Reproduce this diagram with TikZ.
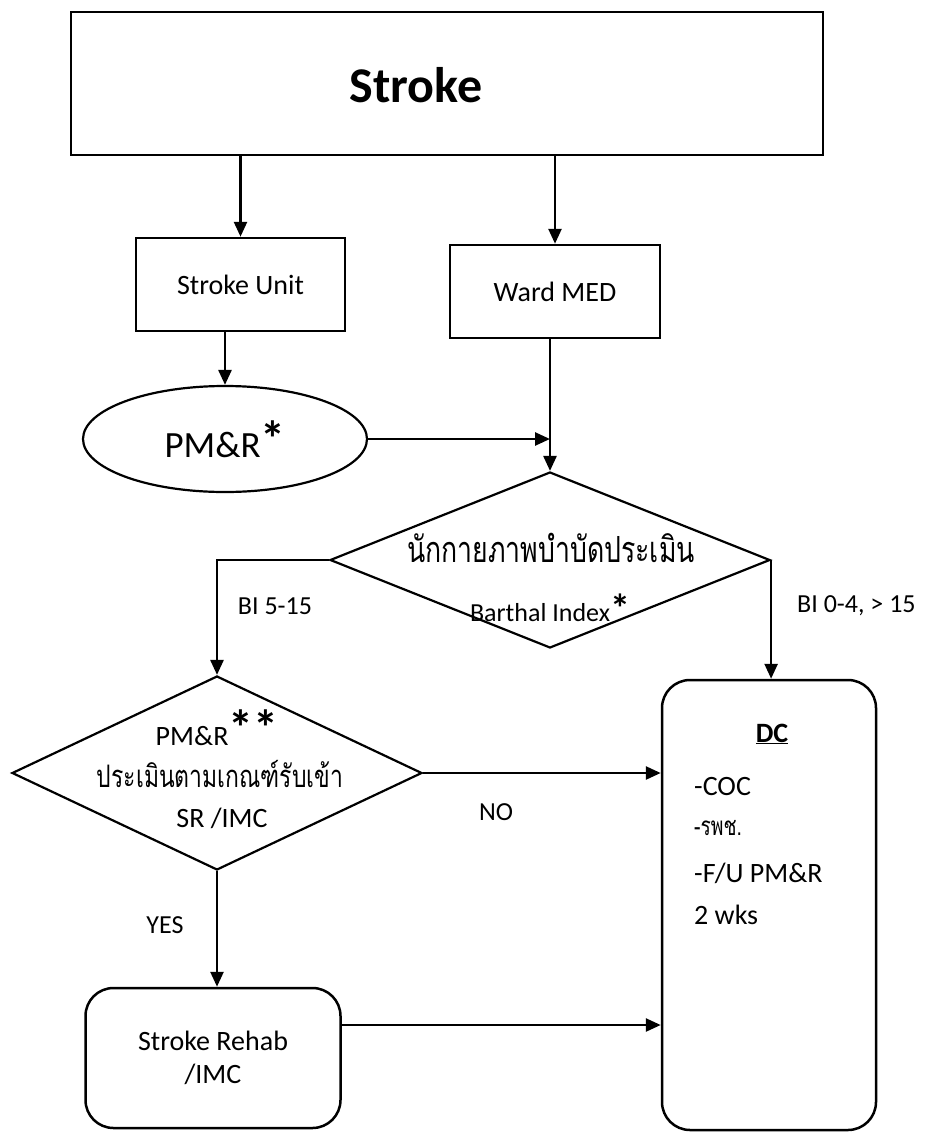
\documentclass[tikz,border=0pt]{standalone}
\usepackage{fontspec}
\setmainfont{Carlito}
\newfontfamily\thai[Script=Thai,FakeStretch=0.74]{Loma}
\usetikzlibrary{shapes.geometric,arrows.meta}
\begin{document}
\begin{tikzpicture}[x=1pt,y=-1pt,
 box/.style={draw,line width=2.5pt,inner sep=0pt},
 rbox/.style={box,rounded corners=28pt},
 dia/.style={draw,line width=2.2pt,diamond,inner sep=0pt},
 arr/.style={line width=2.6pt,-{Triangle[length=15pt,width=13pt]}},
 txt/.style={font=\fontsize{28}{33}\selectfont,inner sep=0pt},
 lbl/.style={font=\fontsize{26}{30}\selectfont,inner sep=0pt},
 thaitxt/.style={inner sep=0pt},
]
\path[use as bounding box, fill=white] (0,0) rectangle (924,1132);

% nodes
\node[box, minimum width=752pt, minimum height=143pt] (stroke) at (447,83.5) {};
\node[inner sep=0pt, font=\fontsize{50}{60}\selectfont\bfseries] (strokelbl) at (416,85) {Stroke};

\node[box, txt, minimum width=209pt, minimum height=93pt] (unit) at (240.5,284.5) {Stroke Unit};
\node[box, txt, minimum width=210pt, minimum height=93pt] (ward) at (555,291.5) {Ward MED};

\node[draw, ellipse, line width=2.2pt, minimum width=284pt, minimum height=106pt, inner sep=0pt,
      font=\fontsize{37}{40}\selectfont] (pmr) at (225,439) {PM\&R\raisebox{1pt}{\fontsize{50}{50}\selectfont\bfseries *}};

\node[dia, minimum width=440pt, minimum height=176pt] (d1) at (550,560) {};
\node[thaitxt, font=\thai\fontsize{36}{40}\selectfont] (d1a) at (551,548) {นักกายภาพบำบัดประเมิน};
\node[lbl] (d1b) at (550,608) {Barthal Index\raisebox{-1pt}{\fontsize{40}{40}\selectfont\bfseries *}};

\node[dia, minimum width=410pt, minimum height=194pt] (d2) at (217,773) {};
\node[txt] (d2a) at (217,728) {PM\&R\raisebox{0pt}{\fontsize{50}{50}\selectfont\bfseries **}};
\node[thaitxt, font=\thai\fontsize{31}{35}\selectfont] (d2b) at (220,774) {ประเมินตามเกณฑ์รับเข้า};
\node[txt] (d2c) at (222,818) {SR /IMC};

\node[rbox, minimum width=214pt, minimum height=450pt] (dc) at (769,905) {};
\node[inner sep=0pt, font=\fontsize{28}{33}\selectfont\bfseries] (dct) at (772,734) {\underline{DC}};
\node[txt, anchor=west] (dc1) at (694,787) {-COC};
\node[thaitxt, anchor=west, font=\thai\fontsize{26}{30}\selectfont] (dc2) at (694,828) {-รพช.};
\node[txt, anchor=west] (dc3) at (694,873) {-F/U PM\&R};
\node[txt, anchor=west] (dc4) at (694,915) {2 wks};

\node[rbox, txt, align=center, minimum width=255pt, minimum height=140pt] (rehab) at (213,1058) {Stroke Rehab\\/IMC};

% labels
\node[lbl] (l1) at (275,606) {BI 5-15};
\node[lbl, anchor=west] (l2) at (797,606) {BI 0-4, > 15};
\node[lbl] (l3) at (496,812) {NO};
\node[lbl] (l4) at (165,925) {YES};

% connectors
\draw[arr] (stroke.south -| unit.north) -- (unit.north);
\draw[arr] (stroke.south -| ward.north) -- (ward.north);
\draw[arr] (unit.south -| pmr.north) -- (pmr.north);
\draw[arr] (ward.south -| d1.north) -- (d1.north);
\draw[arr] (pmr.east) -- (pmr.east -| d1.north);
\draw[arr] (d1.west) -| (d2.north);
\draw[arr] (d1.east) -- (d1.east |- dc.north);
\draw[arr] (d2.east) -- (d2.east -| dc.west);
\draw[arr] (d2.south) -- (d2.south |- rehab.north);
\draw[arr] ([yshift=33pt]rehab.east) -- ([yshift=33pt]rehab.east -| dc.west);
\end{tikzpicture}
\end{document}
